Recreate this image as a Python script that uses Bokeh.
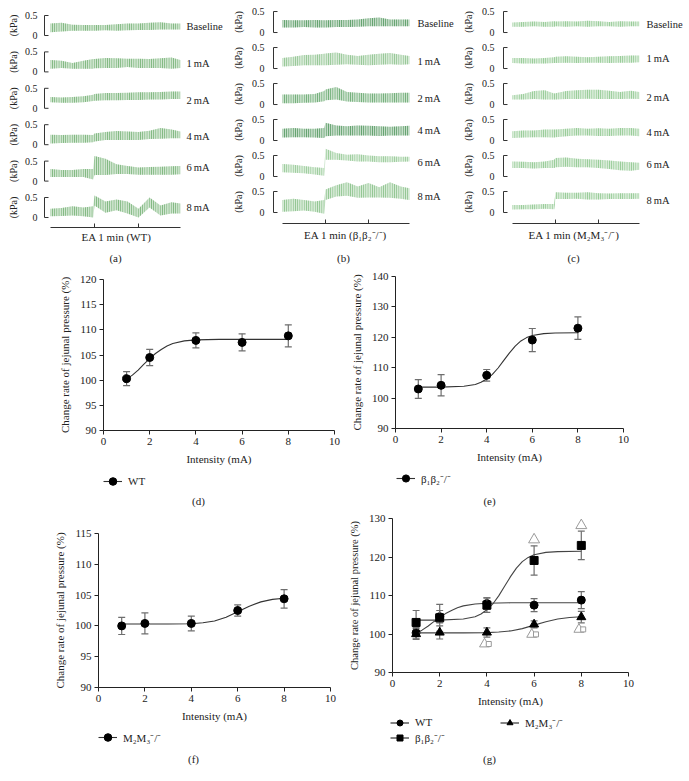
import math
from bokeh.plotting import figure
from bokeh.layouts import row, column
from bokeh.models import (Range1d, FixedTicker, Legend, LegendItem, ColumnDataSource)
from bokeh.transform import dodge
from bokeh.core.properties import value
from bokeh.embed import file_html
from bokeh.resources import INLINE

FONT = "Liberation Serif"
INK = "#222222"
NAN = float("nan")

# ------------------------------------------------------------------ data
# time (min) of the envelope samples of each pressure trace
T = [0, 0.25, 0.5, 0.75, 0.97, 1.0, 1.25, 1.5, 1.75, 2.0, 2.25, 2.5, 2.75, 2.95]
ROW_LABELS = ["Baseline", "1\u2009mA", "2\u2009mA", "4\u2009mA", "6\u2009mA", "8\u2009mA"]
EA_TICKS = [1, 2]

# (a) WT  - lower / upper envelope (kPa)
a_base_lo = [0.08, 0.10, 0.12, 0.12, 0.12, 0.12, 0.13, 0.12, 0.13, 0.14, 0.14, 0.15, 0.15, 0.15]
a_base_hi = [0.30, 0.32, 0.27, 0.26, 0.26, 0.26, 0.26, 0.28, 0.30, 0.30, 0.32, 0.33, 0.30, 0.30]
a_1ma_lo = [0.08, 0.10, 0.08, 0.08, 0.08, 0.09, 0.10, 0.10, 0.12, 0.10, 0.10, 0.10, 0.08, 0.10]
a_1ma_hi = [0.30, 0.28, 0.22, 0.28, 0.32, 0.32, 0.35, 0.34, 0.33, 0.33, 0.32, 0.34, 0.36, 0.30]
a_2ma_lo = [0.15, 0.14, 0.14, 0.15, 0.18, 0.19, 0.20, 0.20, 0.21, 0.21, 0.22, 0.22, 0.23, 0.23]
a_2ma_hi = [0.28, 0.27, 0.28, 0.30, 0.34, 0.36, 0.38, 0.38, 0.39, 0.40, 0.40, 0.41, 0.42, 0.42]
a_4ma_lo = [0.03, 0.04, 0.05, 0.05, 0.06, 0.08, 0.12, 0.12, 0.12, 0.12, 0.14, 0.15, 0.16, 0.16]
a_4ma_hi = [0.25, 0.24, 0.25, 0.25, 0.24, 0.28, 0.32, 0.34, 0.33, 0.32, 0.35, 0.42, 0.38, 0.33]
a_6ma_lo = [0.10, 0.10, 0.10, 0.10, 0.04, 0.15, 0.15, 0.18, 0.18, 0.16, 0.16, 0.16, 0.16, 0.17]
a_6ma_hi = [0.30, 0.28, 0.28, 0.30, 0.30, 0.63, 0.56, 0.42, 0.38, 0.34, 0.35, 0.36, 0.37, 0.38]
a_8ma_lo = [0.03, 0.04, 0.05, 0.03, 0.00, 0.30, 0.12, 0.18, 0.10, 0.00, 0.25, 0.05, 0.10, 0.10]
a_8ma_hi = [0.22, 0.24, 0.28, 0.25, 0.28, 0.55, 0.40, 0.45, 0.40, 0.22, 0.50, 0.30, 0.38, 0.35]

# (b) beta1beta2 -/-
b_base_lo = [0.12, 0.12, 0.13, 0.12, 0.12, 0.12, 0.13, 0.13, 0.14, 0.15, 0.15, 0.15, 0.15, 0.15]
b_base_hi = [0.30, 0.29, 0.29, 0.30, 0.29, 0.29, 0.30, 0.30, 0.31, 0.34, 0.36, 0.31, 0.31, 0.31]
b_1ma_lo = [0.05, 0.06, 0.08, 0.08, 0.08, 0.08, 0.09, 0.10, 0.09, 0.08, 0.09, 0.10, 0.09, 0.10]
b_1ma_hi = [0.25, 0.28, 0.32, 0.33, 0.35, 0.36, 0.38, 0.33, 0.30, 0.33, 0.35, 0.37, 0.33, 0.30]
b_2ma_lo = [0.03, 0.03, 0.04, 0.05, 0.08, 0.10, 0.12, 0.07, 0.06, 0.05, 0.05, 0.05, 0.05, 0.05]
b_2ma_hi = [0.24, 0.24, 0.24, 0.25, 0.32, 0.36, 0.42, 0.30, 0.28, 0.26, 0.26, 0.27, 0.28, 0.28]
b_4ma_lo = [0.07, 0.08, 0.08, 0.07, 0.06, 0.10, 0.12, 0.12, 0.12, 0.12, 0.11, 0.12, 0.12, 0.12]
b_4ma_hi = [0.28, 0.30, 0.28, 0.28, 0.30, 0.42, 0.36, 0.34, 0.36, 0.35, 0.34, 0.33, 0.34, 0.35]
b_6ma_lo = [0.10, 0.09, 0.08, 0.05, 0.02, 0.40, 0.40, 0.38, 0.36, 0.36, 0.34, 0.34, 0.35, 0.36]
b_6ma_hi = [0.30, 0.28, 0.25, 0.22, 0.20, 0.66, 0.56, 0.52, 0.53, 0.50, 0.48, 0.48, 0.47, 0.47]
b_8ma_lo = [0.02, 0.03, 0.05, 0.02, -0.03, 0.30, 0.38, 0.40, 0.35, 0.36, 0.36, 0.35, 0.33, 0.30]
b_8ma_hi = [0.30, 0.33, 0.30, 0.26, 0.30, 0.55, 0.65, 0.72, 0.62, 0.70, 0.60, 0.72, 0.62, 0.58]

# (c) M2M3 -/-
c_base_lo = [0.14, 0.14, 0.15, 0.14, 0.14, 0.15, 0.14, 0.15, 0.14, 0.15, 0.15, 0.14, 0.15, 0.15]
c_base_hi = [0.24, 0.25, 0.26, 0.25, 0.27, 0.26, 0.27, 0.26, 0.28, 0.27, 0.25, 0.27, 0.26, 0.26]
c_1ma_lo = [0.13, 0.12, 0.12, 0.12, 0.13, 0.13, 0.14, 0.13, 0.14, 0.14, 0.13, 0.14, 0.14, 0.15]
c_1ma_hi = [0.25, 0.25, 0.24, 0.25, 0.27, 0.28, 0.29, 0.28, 0.27, 0.28, 0.29, 0.30, 0.31, 0.31]
c_2ma_lo = [0.12, 0.12, 0.13, 0.12, 0.12, 0.12, 0.13, 0.13, 0.14, 0.13, 0.13, 0.13, 0.14, 0.13]
c_2ma_hi = [0.22, 0.25, 0.32, 0.34, 0.26, 0.27, 0.32, 0.34, 0.35, 0.35, 0.33, 0.30, 0.33, 0.30]
c_4ma_lo = [0.06, 0.07, 0.08, 0.08, 0.07, 0.08, 0.10, 0.12, 0.12, 0.11, 0.11, 0.12, 0.12, 0.10]
c_4ma_hi = [0.22, 0.24, 0.24, 0.26, 0.26, 0.26, 0.28, 0.30, 0.28, 0.29, 0.28, 0.30, 0.30, 0.28]
c_6ma_lo = [0.20, 0.20, 0.19, 0.20, 0.20, 0.22, 0.23, 0.22, 0.22, 0.20, 0.18, 0.15, 0.14, 0.16]
c_6ma_hi = [0.36, 0.35, 0.34, 0.36, 0.40, 0.44, 0.45, 0.42, 0.41, 0.40, 0.38, 0.36, 0.34, 0.33]
c_8ma_lo = [0.07, 0.08, 0.08, 0.09, 0.08, 0.32, 0.32, 0.33, 0.31, 0.31, 0.32, 0.32, 0.32, 0.33]
c_8ma_hi = [0.18, 0.18, 0.19, 0.20, 0.20, 0.48, 0.47, 0.47, 0.48, 0.46, 0.45, 0.46, 0.46, 0.46]

# dose-response (% change of jejunal pressure)
INTENSITY = [1, 2, 4, 6, 8]
X_TICKS = [0, 2, 4, 6, 8, 10]
WT_MEAN = [100.3, 104.5, 107.9, 107.5, 108.8]
WT_ERR = [1.4, 1.6, 1.5, 1.7, 2.2]
B_MEAN = [103.0, 104.2, 107.5, 119.1, 123.0]
B_ERR = [3.1, 3.5, 1.9, 3.8, 3.7]
M_MEAN = [100.0, 100.4, 100.4, 102.5, 104.4]
M_ERR = [1.4, 1.7, 1.2, 0.9, 1.5]

# fitted curves
WT_FIT_X = [1.0, 1.25, 1.5, 1.75, 2.0, 2.25, 2.5, 2.75, 3.0, 3.5, 4.0, 5.0, 6.0, 7.0, 8.0]
WT_FIT_Y = [100.2, 101.0, 102.0, 103.2, 104.3, 105.3, 106.1, 106.8, 107.3, 107.8, 108.0, 108.1, 108.1, 108.1, 108.1]
B_FIT_X = [1, 2, 3, 3.5, 3.75, 4, 4.25, 4.5, 4.75, 5, 5.25, 5.5, 5.75, 6, 6.5, 7, 8]
B_FIT_Y = [103.6, 103.6, 103.9, 104.5, 105.2, 106.3, 107.8, 109.9, 112.4, 114.9, 117.1, 118.8, 119.9, 120.6, 121.2, 121.4, 121.5]
M_FIT_X = [1, 2, 3, 4, 4.5, 5, 5.5, 6, 6.5, 7, 7.5, 8]
M_FIT_Y = [100.3, 100.3, 100.3, 100.35, 100.5, 100.8, 101.4, 102.3, 103.2, 103.9, 104.3, 104.5]

# significance marks in (g)
SIG_TRI_X = [6, 8]
SIG_TRI_Y = [124.5, 128.2]
SIG_PAIR_X = [4, 6, 8]
SIG_PAIR_Y = [97.4, 99.9, 101.2]

Y_TITLE = "Change rate of jejunal pressure (%)"
SUP = "\u207b/\u207b"
B_NAME = "\u03b2\u2081\u03b2\u2082" + SUP
M_NAME = "M\u2082M\u2083" + SUP

# row-label heights (kPa above each row's zero) - placement only
LAB_Y_A = [0.22, 0.20, 0.20, 0.20, 0.34, 0.25]
LAB_Y_B = [0.22, 0.16, 0.15, 0.23, 0.33, 0.38]
LAB_Y_C = [0.20, 0.23, 0.17, 0.20, 0.29, 0.29]

COMMON = dict(output_backend="svg", toolbar_location=None, frame_align=False)


# ------------------------------------------------------------------ helpers
class Strip:
    """A figure in page-pixel coordinates holding a legend and the panel letter."""

    def __init__(self, W, fig_left, top, bottom):
        s = figure(width=W, height=bottom - top, x_range=Range1d(fig_left, fig_left + W),
                   y_range=Range1d(bottom, top), x_axis_location=None,
                   y_axis_location=None, min_border=0, **COMMON)
        s.grid.visible = False
        s.outline_line_color = None
        self.p = s
        self.left = fig_left
        self.bottom = bottom

    def letter(self, text, cx, cy):
        self.p.text(x=[cx], y=[cy], text=[text], text_font=value(FONT),
                    text_font_size=value("11px"), text_color=INK,
                    text_align="center", text_baseline="middle")

    def legend(self, entries, left_px, top_px, gh, curve_color="#333333"):
        s = self.p
        items = []
        for label, marker, size in entries:
            # legend keys only: the renderers hold no visible point
            ln = s.line(x=[NAN], y=[NAN], line_color=curve_color, line_width=1.1)
            sc = s.scatter(x=[NAN], y=[NAN], marker=marker, size=size,
                           fill_color="black", line_color="black")
            items.append(LegendItem(label=label, renderers=[ln, sc]))
        h = gh * len(items)
        leg = Legend(items=items, location=(left_px - self.left, self.bottom - top_px - h),
                     orientation="vertical", margin=0, padding=0, spacing=0,
                     glyph_width=19, glyph_height=gh, label_height=gh, label_standoff=6,
                     label_text_font=FONT, label_text_font_size="11px",
                     label_text_color=INK, border_line_color=None,
                     background_fill_alpha=0)
        s.add_layout(leg)


def trace_panel(W, H, fig_left, t0_px, ppm, axis_px, zero_last_px, ppk, step,
                bracket_px, ticklab_px, kpa_px, lab_px, lab_y, lows, highs, colors,
                xlabel, xlabel_standoff):
    frame_h = axis_px
    x0 = (fig_left - t0_px) / ppm
    x1 = (fig_left + W - t0_px) / ppm
    y0 = -(axis_px - zero_last_px) / ppk
    y1 = y0 + frame_h / ppk
    p = figure(width=W, height=H, x_range=Range1d(x0, x1), y_range=Range1d(y0, y1),
               y_axis_location=None, min_border_left=0, min_border_right=0,
               min_border_top=0, min_border_bottom=H - frame_h, **COMMON)
    p.grid.visible = False
    p.outline_line_color = None
    xb = (bracket_px - t0_px) / ppm
    xt = xb + 4.0 / ppm
    xl = (ticklab_px - t0_px) / ppm
    xk = (kpa_px - t0_px) / ppm
    xr = (lab_px - t0_px) / ppm
    n = len(lows)
    for i in range(n):
        base = (n - 1 - i) * step
        p.varea(x=T, y1=[v + base for v in lows[i]], y2=[v + base for v in highs[i]],
                fill_color=colors[i], fill_alpha=0.30,
                hatch_pattern="vertical_line", hatch_color=colors[i],
                hatch_scale=2.2, hatch_weight=1.0, hatch_alpha=0.95)
        p.segment(x0=[xb, xb, xb], y0=[base, base, base + 0.5],
                  x1=[xb, xt, xt], y1=[base + 0.5, base, base + 0.5],
                  line_color="#333333", line_width=1)
        p.text(x=[xl, xl], y=[base, base + 0.5], text=["0", "0.5"],
               text_font=value(FONT), text_font_size=value("10px"),
               text_align="right", text_baseline="middle", text_color=INK)
        p.text(x=[xk], y=[base + 0.25], text=["(kPa)"], angle=math.pi / 2,
               text_font=value(FONT), text_font_size=value("10px"),
               text_align="center", text_baseline="middle", text_color=INK)
        p.text(x=[xr], y=[base + lab_y[i]], text=[ROW_LABELS[i]],
               text_font=value(FONT), text_font_size=value("10.5px"),
               text_align="left", text_baseline="middle", text_color=INK)
    ax = p.xaxis[0]
    ax.bounds = (0, T[-1])
    ax.ticker = FixedTicker(ticks=[], minor_ticks=EA_TICKS)
    ax.major_tick_line_color = None
    ax.minor_tick_in = 4
    ax.minor_tick_out = 0
    ax.minor_tick_line_color = "#333333"
    ax.major_label_standoff = 0
    ax.axis_line_color = "#333333"
    ax.axis_label = xlabel
    ax.axis_label_standoff = xlabel_standoff
    ax.axis_label_text_font = FONT
    ax.axis_label_text_font_size = "11px"
    ax.axis_label_text_font_style = "normal"
    ax.axis_label_text_color = INK
    return p


def style_axis(ax):
    ax.axis_line_color = INK
    ax.major_tick_line_color = INK
    ax.minor_tick_line_color = None
    ax.major_tick_out = 4
    ax.major_tick_in = 0
    ax.major_label_text_font = FONT
    ax.major_label_text_font_size = "11px"
    ax.major_label_text_color = INK
    ax.major_label_standoff = 3
    ax.axis_label_text_font = FONT
    ax.axis_label_text_font_size = "11px"
    ax.axis_label_text_font_style = "normal"
    ax.axis_label_text_color = INK
    ax.axis_label_standoff = 6


class Dose:
    def __init__(self, W, H, fig_left, fig_top, fl, fr, ft, fb, yr, yticks, ytitle_size="11px"):
        self.ppx = (fr - fl) / 10.0
        p = figure(width=W, height=H, x_range=Range1d(0, 10), y_range=Range1d(*yr),
                   min_border_left=fl - fig_left, min_border_right=fig_left + W - fr,
                   min_border_top=ft - fig_top, min_border_bottom=fig_top + H - fb,
                   **COMMON)
        p.grid.visible = False
        p.outline_line_color = None
        p.xaxis.ticker = FixedTicker(ticks=X_TICKS)
        p.yaxis.ticker = FixedTicker(ticks=yticks)
        p.xaxis.axis_label = "Intensity (mA)"
        p.yaxis.axis_label = Y_TITLE
        style_axis(p.xaxis[0])
        style_axis(p.yaxis[0])
        p.xaxis[0].axis_label_standoff = 5
        p.yaxis[0].axis_label_text_font_size = ytitle_size
        self.p = p

    def series(self, means, errs, fx, fy, marker, size, curve_color):
        p = self.p
        up = [m + e for m, e in zip(means, errs)]
        lo = [m - e for m, e in zip(means, errs)]
        cap = 3.5 / self.ppx
        bar = dict(line_color="#6e6e6e", line_width=1.2)
        p.segment(x0=INTENSITY, y0=lo, x1=INTENSITY, y1=up, **bar)
        p.segment(x0=[x - cap for x in INTENSITY], y0=up,
                  x1=[x + cap for x in INTENSITY], y1=up, **bar)
        p.segment(x0=[x - cap for x in INTENSITY], y0=lo,
                  x1=[x + cap for x in INTENSITY], y1=lo, **bar)
        p.line(fx, fy, line_color=curve_color, line_width=1.1)
        p.scatter(INTENSITY, means, marker=marker, size=size,
                  fill_color="black", line_color="black")


# ------------------------------------------------------------------ trace panels
pa = trace_panel(232, 245, 0, 50, 44, 227, 217, 40, 0.91, 44, 37, 13, 186, LAB_Y_A,
                 [a_base_lo, a_1ma_lo, a_2ma_lo, a_4ma_lo, a_6ma_lo, a_8ma_lo],
                 [a_base_hi, a_1ma_hi, a_2ma_hi, a_4ma_hi, a_6ma_hi, a_8ma_hi],
                 ["#64a864"] * 6, "EA 1 min (WT)", 3)
sa = Strip(232, 0, 245, 265)
sa.letter("(a)", 115, 257)

pb = trace_panel(226, 245, 232, 282, 43, 223, 212, 42, 0.857, 273, 264, 238, 417, LAB_Y_B,
                 [b_base_lo, b_1ma_lo, b_2ma_lo, b_4ma_lo, b_6ma_lo, b_8ma_lo],
                 [b_base_hi, b_1ma_hi, b_2ma_hi, b_4ma_hi, b_6ma_hi, b_8ma_hi],
                 ["#3f8c4c", "#7dbb7d", "#529d5b", "#3f8c4c", "#86c186", "#78b878"],
                 "EA 1 min (" + B_NAME + ")", 5)
sb = Strip(226, 232, 245, 265)
sb.letter("(b)", 343, 257)

pc = trace_panel(231, 245, 458, 512, 43, 223, 212, 42, 0.857, 503, 494, 468, 646, LAB_Y_C,
                 [c_base_lo, c_1ma_lo, c_2ma_lo, c_4ma_lo, c_6ma_lo, c_8ma_lo],
                 [c_base_hi, c_1ma_hi, c_2ma_hi, c_4ma_hi, c_6ma_hi, c_8ma_hi],
                 ["#80c080"] * 6, "EA 1 min (" + M_NAME + ")", 5)
sc_ = Strip(231, 458, 245, 265)
sc_.letter("(c)", 573, 257)

# ------------------------------------------------------------------ (d)
d = Dose(345, 204, 0, 265, 103, 334, 279, 430, (90, 120), [90, 95, 100, 105, 110, 115, 120])
d.series(WT_MEAN, WT_ERR, WT_FIT_X, WT_FIT_Y, "circle", 8, "#333333")
sd = Strip(345, 0, 469, 510)
sd.legend([("WT", "circle", 8)], 103, 471, 20)
sd.letter("(d)", 198, 500)

# ------------------------------------------------------------------ (e)
e = Dose(344, 204, 345, 265, 395, 623, 276, 428, (90, 140), [90, 100, 110, 120, 130, 140])
e.series(B_MEAN, B_ERR, B_FIT_X, B_FIT_Y, "circle", 8, "#333333")
se = Strip(344, 345, 469, 510)
se.legend([(B_NAME, "circle", 8)], 396, 469, 18)
se.letter("(e)", 489, 500)

# ------------------------------------------------------------------ (f)
f = Dose(345, 217, 0, 510, 98, 330, 533, 687, (90, 115), [90, 95, 100, 105, 110, 115])
f.series(M_MEAN, M_ERR, M_FIT_X, M_FIT_Y, "circle", 8, "#333333")
sf = Strip(345, 0, 727, 780)
sf.legend([(M_NAME, "circle", 8)], 98, 727, 20)
sf.letter("(f)", 193, 758)

# ------------------------------------------------------------------ (g)
g = Dose(344, 202, 345, 510, 389, 628, 518, 672, (90, 130), [90, 100, 110, 120, 130],
         ytitle_size="10.5px")
g.series(WT_MEAN, WT_ERR, WT_FIT_X, WT_FIT_Y, "circle", 8, "#444444")
g.series(B_MEAN, B_ERR, B_FIT_X, B_FIT_Y, "square", 8, "#444444")
g.series(M_MEAN, M_ERR, M_FIT_X, M_FIT_Y, "triangle", 9, "#444444")
pg = g.p
pg.scatter(SIG_TRI_X, SIG_TRI_Y, marker="triangle", size=11, fill_color="white",
           line_color="#9a9a9a", line_width=1)
sig = ColumnDataSource(dict(x=SIG_PAIR_X, y=SIG_PAIR_Y))
pg.scatter(x=dodge("x", -0.1, range=pg.x_range), y="y", source=sig, marker="triangle",
           size=10, fill_color="white", line_color="#9a9a9a", line_width=1)
pg.scatter(x=dodge("x", 0.08, range=pg.x_range), y="y", source=sig, marker="square",
           size=5, fill_color="white", line_color="#9a9a9a", line_width=1)
sg = Strip(344, 345, 712, 780)
sg.legend([("WT", "circle", 8), (B_NAME, "square", 8)], 390, 714.5, 15, "#222222")
sg.legend([(M_NAME, "triangle", 9)], 500, 714.5, 15, "#222222")
sg.letter("(g)", 489, 758)

layout = column(
    row(column(pa, sa.p), column(pb, sb.p), column(pc, sc_.p)),
    row(column(d.p, sd.p), column(e.p, se.p)),
    row(column(f.p, sf.p), column(g.p, sg.p)),
)
open("out.html", "w").write(file_html(layout, INLINE))
